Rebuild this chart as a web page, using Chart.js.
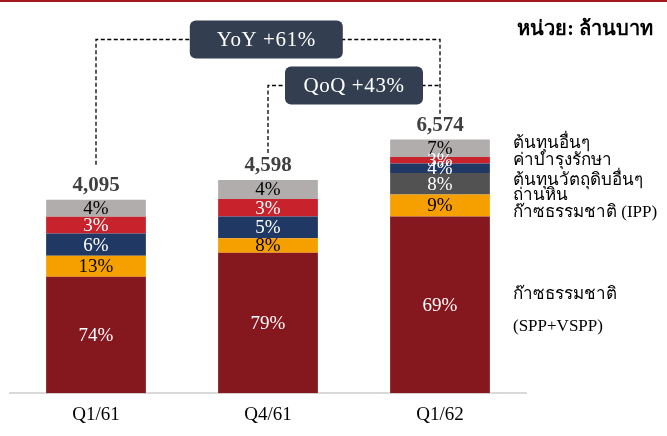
<!DOCTYPE html>
<html><head><meta charset="utf-8">
<script src="https://cdn.jsdelivr.net/npm/chart.js@4.4.0/dist/chart.umd.min.js"></script>
<style>html,body{margin:0;padding:0;background:#fff;overflow:hidden}#wrap{width:667px;height:436px;position:relative}</style>
</head><body><div id="wrap"><canvas id="c" width="667" height="436"></canvas></div>
<script>
// ---- data ----
const categories = ['Q1/61', 'Q4/61', 'Q1/62'];
const totalLabels = ['4,095', '4,598', '6,574'];
const unitLabel = 'หน่วย: ล้านบาท';
const yoyLabel = 'YoY +61%';
const qoqLabel = 'QoQ +43%';
const seriesNames = ['ก๊าซธรรมชาติ (SPP+VSPP)', 'ก๊าซธรรมชาติ (IPP)', 'ถ่านหิน', 'ต้นทุนวัตถุดิบอื่นๆ', 'ค่าบำรุงรักษา', 'ต้นทุนอื่นๆ'];
// segment sizes as drawn in the picture (chart units)
const gasSppValues = [116, 140, 176];
const gasIppValues = [21, 14.4, 22];
const coalValues = [0, 0, 21.3];
const otherRawValues = [22, 21.6, 9.4];
const maintenanceValues = [16.7, 17.4, 6.6];
const otherCostValues = [17, 19, 17.4];
// share labels
const gasSppPct = ['74%', '79%', '69%'];
const gasIppPct = ['13%', '8%', '9%'];
const coalPct = ['', '', '8%'];
const otherRawPct = ['6%', '5%', '4%'];
const maintenancePct = ['3%', '3%', '3%'];
const otherCostPct = ['4%', '4%', '7%'];

const SERIF = '"Liberation Serif", "Times New Roman", serif';
const colors = ['#85171f', '#f6a000', '#525252', '#1f3864', '#c8232c', '#b1adad'];
const labelColors = ['#ffffff', '#000000', '#ffffff', '#ffffff', '#ffffff', '#000000'];
const valuesList = [gasSppValues, gasIppValues, coalValues, otherRawValues, maintenanceValues, otherCostValues];
const pctList = [gasSppPct, gasIppPct, coalPct, otherRawPct, maintenancePct, otherCostPct];

const datasets = valuesList.map((v, i) => ({
  label: seriesNames[i], data: v, backgroundColor: colors[i], borderWidth: 0,
  barPercentage: 1, categoryPercentage: 0.58, stack: 's'
}));

const labelPlugin = {
  id: 'labels',
  afterDatasetsDraw(chart) {
    const ctx = chart.ctx;
    ctx.save();
    ctx.textAlign = 'center';
    ctx.textBaseline = 'middle';
    ctx.font = '19px ' + SERIF;
    datasets.forEach((ds, i) => {
      const meta = chart.getDatasetMeta(i);
      meta.data.forEach((el, j) => {
        const t = pctList[i][j];
        if (!t || !valuesList[i][j]) return;
        ctx.fillStyle = labelColors[i];
        ctx.fillText(t, el.x, (el.y + el.base) / 2 + 1);
      });
    });
    // totals
    const top = chart.getDatasetMeta(datasets.length - 1);
    ctx.font = 'bold 21px ' + SERIF;
    ctx.fillStyle = '#404040';
    top.data.forEach((el, j) => ctx.fillText(totalLabels[j], el.x, el.y - 14));
    ctx.restore();
  },
  afterDraw(chart) {
    const ctx = chart.ctx;
    const top = chart.getDatasetMeta(datasets.length - 1).data;
    ctx.save();
    // top red rule
    ctx.fillStyle = '#a3191f';
    ctx.fillRect(0, 0, chart.width, 2);
    // dashed connectors
    ctx.strokeStyle = '#000';
    ctx.lineWidth = 1.3;
    ctx.setLineDash([4, 2.5]);
    const yY = 39.5, qY = 85.5;
    ctx.beginPath();
    ctx.moveTo(top[0].x, top[0].y - 35); ctx.lineTo(top[0].x, yY); ctx.lineTo(top[2].x, yY); ctx.lineTo(top[2].x, top[2].y - 25);
    ctx.moveTo(top[1].x, top[1].y - 27); ctx.lineTo(top[1].x, qY); ctx.lineTo(top[2].x, qY);
    ctx.stroke();
    ctx.setLineDash([]);
    // boxes
    const box = (cx, cy, w, h, text) => {
      ctx.fillStyle = '#333f51';
      ctx.beginPath();
      ctx.roundRect(cx - w / 2, cy - h / 2, w, h, 6);
      ctx.fill();
      ctx.fillStyle = '#ffffff';
      ctx.font = '21px ' + SERIF;
      ctx.letterSpacing = '0.6px';
      ctx.textAlign = 'center';
      ctx.textBaseline = 'middle';
      ctx.fillText(text, cx, cy + 1);
      ctx.letterSpacing = '0px';
    };
    box(top[1].x - 1.7, yY, 153, 38, yoyLabel);
    box((top[1].x + top[2].x) / 2, qY, 138, 38, qoqLabel);
    // unit
    ctx.fillStyle = '#000';
    ctx.font = 'bold 20px ' + SERIF;
    ctx.textAlign = 'right';
    ctx.textBaseline = 'alphabetic';
    ctx.fillText(unitLabel, 653, 35);
    // series legend
    ctx.textAlign = 'left';
    ctx.font = '17px ' + SERIF;
    const lx = 513;
    const legendLines = [
      [seriesNames[5], 148], [seriesNames[4], 165], [seriesNames[3], 185], [seriesNames[2], 200], [seriesNames[1], 217],
      ['ก๊าซธรรมชาติ', 299], ['(SPP+VSPP)', 331]
    ];
    legendLines.forEach(([t, y]) => ctx.fillText(t, lx, y));
    ctx.restore();
  }
};

new Chart(document.getElementById('c'), {
  type: 'bar',
  data: { labels: categories, datasets },
  options: {
    responsive: false, animation: false, devicePixelRatio: 1,
    layout: { padding: { left: 10, right: 141, top: 92, bottom: 0 } },
    plugins: { legend: { display: false }, tooltip: { enabled: false } },
    scales: {
      x: {
        stacked: true,
        grid: { display: false, drawTicks: false },
        border: { display: true, color: '#d9d9d9', width: 2 },
        ticks: { color: '#000', font: { family: SERIF, size: 19 }, padding: 10 }
      },
      y: { stacked: true, display: false, min: 0, max: 300 }
    }
  },
  plugins: [labelPlugin]
});
</script></body></html>
